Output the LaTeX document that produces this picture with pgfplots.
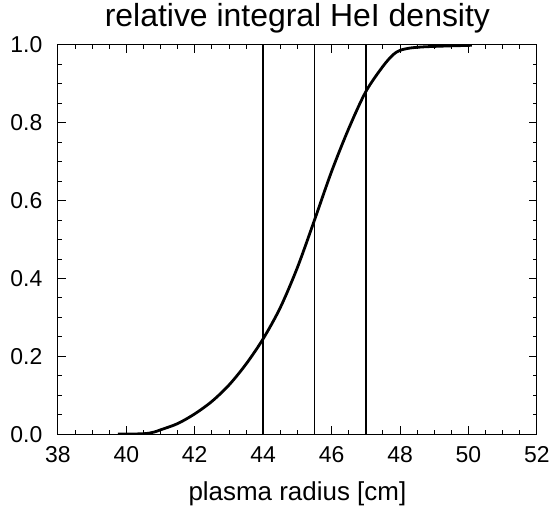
\documentclass[border=0pt]{standalone}
\usepackage{fontspec}
\setmainfont{Liberation Sans}
\usepackage{pgfplots}
\pgfplotsset{compat=1.18}
\usetikzlibrary{calc}
\begin{document}
\begin{tikzpicture}
\begin{axis}[
  scale only axis,
  width=480pt, height=390pt,
  xmin=38, xmax=52, ymin=0, ymax=1,
  xtick={38,40,...,52}, ytick={0,0.2,...,1.0},
  minor x tick num=3, minor y tick num=3,
  tick align=inside,
  major tick length=8pt, minor tick length=4pt,
  every tick/.style={black, line width=0.9pt},
  axis line style={line width=0.9pt},
  xticklabel style={/pgf/number format/fixed, anchor=north, yshift=-9pt},
  yticklabel style={/pgf/number format/fixed, /pgf/number format/fixed zerofill, /pgf/number format/precision=1, anchor=east, xshift=-12pt},
  /pgf/number format/assume math mode=true,
  tick label style={font=\fontsize{23}{26}\selectfont},
  xlabel={plasma radius [cm]},
  xlabel style={font=\fontsize{26}{30}\selectfont, yshift=-12pt},
  title={relative integral HeI density},
  title style={font=\fontsize{32}{36}\selectfont, at={(0.5,1)}, anchor=base, yshift=12pt},
]
\addplot[black, line width=1.7pt] coordinates {(44,0) (44,1)};
\addplot[black, line width=1.7pt] coordinates {(45.5,0) (45.5,1)};
\addplot[black, line width=1.7pt] coordinates {(47,0) (47,1)};
\addplot[black, line width=2.8pt, smooth, tension=0.5] coordinates {
(39.75,0) (40.5,0.001) (40.8,0.005) (41,0.011) (41.5,0.027)
(42,0.052) (42.5,0.084) (43,0.126) (43.5,0.18) (44,0.245) (44.5,0.325)
(45,0.428) (45.5,0.55) (46,0.675) (46.5,0.785) (47,0.88) (47.5,0.945)
(47.8,0.975) (48,0.986) (48.3,0.992) (48.7,0.995) (49.3,0.997) (50.1,0.999)
};
\end{axis}
\path ($(current axis.south west)+(-58pt,-73pt)$) rectangle ($(current axis.north east)+(15pt,45pt)$);
\end{tikzpicture}
\end{document}
